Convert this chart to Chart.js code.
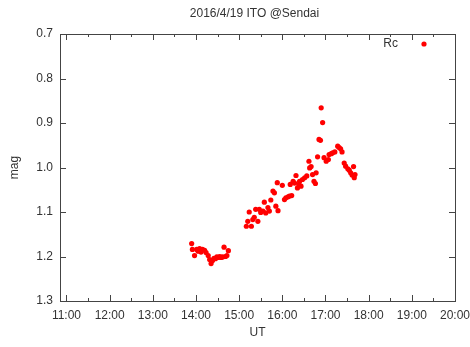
<!DOCTYPE html>
<html>
<head>
<meta charset="utf-8">
<script src="https://cdn.jsdelivr.net/npm/chart.js@4/dist/chart.umd.min.js"></script>
<style>
  body { margin: 0; background: #fff; }
  #wrap { width: 470px; height: 347px; position: relative; }
</style>
</head>
<body>
<div id="wrap"><canvas id="myChart"></canvas></div>
<script>
var chartTitle = '2016/4/19 ITO @Sendai';
var seriesName = 'Rc';

// UT times and magnitudes
var times = [
  '13:54', '13:55', '13:58', '14:01', '14:03', '14:05', '14:07', '14:09', '14:12', '14:14',
  '14:17', '14:19', '14:21', '14:23', '14:25', '14:27', '14:29', '14:31', '14:33', '14:35',
  '14:37', '14:39', '14:41', '14:43', '14:45',
  '15:10', '15:12', '15:14', '15:17', '15:19', '15:21', '15:23', '15:26', '15:28', '15:30',
  '15:33', '15:35', '15:37', '15:40', '15:42', '15:44', '15:47', '15:49', '15:51', '15:53',
  '15:54', '16:00', '16:03', '16:05', '16:08', '16:10', '16:11', '16:13', '16:15', '16:17',
  '16:19', '16:21', '16:23', '16:24', '16:26', '16:28', '16:31', '16:34', '16:37', '16:38',
  '16:40', '16:42', '16:44', '16:46', '16:47', '16:49', '16:51', '16:53', '16:54', '16:56',
  '16:58', '17:01', '17:04', '17:05', '17:08', '17:10', '17:13', '17:17', '17:19', '17:21',
  '17:23', '17:26', '17:28', '17:31', '17:33', '17:35', '17:37', '17:39', '17:40', '17:41'
];
var mags = [
  1.171, 1.184, 1.198, 1.184, 1.188, 1.182, 1.190, 1.184, 1.186, 1.191,
  1.198, 1.207, 1.216, 1.209, 1.204, 1.205, 1.201, 1.202, 1.200, 1.202,
  1.201, 1.179, 1.200, 1.198, 1.187,
  1.132, 1.121, 1.100, 1.132, 1.117, 1.112, 1.094, 1.121, 1.094, 1.101,
  1.098, 1.078, 1.102, 1.090, 1.098, 1.073, 1.053, 1.057, 1.087, 1.034,
  1.097, 1.040, 1.072, 1.068, 1.066, 1.064, 1.038, 1.063, 1.031, 1.035,
  1.018, 1.046, 1.038, 1.031, 1.042, 1.027, 1.023, 1.019, 0.986, 1.001,
  0.998, 1.016, 1.031, 1.036, 1.012, 0.976, 0.937, 0.939, 0.866, 0.899,
  0.978, 0.986, 0.982, 0.971, 0.969, 0.967, 0.965, 0.952, 0.955, 0.958,
  0.965, 0.990, 0.997, 1.003, 1.006, 1.012, 1.017, 0.998, 1.023, 1.016
];

var xTicks = [11, 11.5, 12, 12.5, 13, 13.5, 14, 14.5, 15, 15.5, 16, 16.5, 17, 17.5, 18, 18.5, 19, 19.5, 20];
var yTicks = [0.7, 0.8, 0.9, 1.0, 1.1, 1.2, 1.3];

var textColor = '#333';
var frameColor = '#444';

function toHours(s) {
  var p = s.split(':');
  return Number(p[0]) + Number(p[1]) / 60;
}

var points = times.map(function (t, i) {
  return { x: toHours(t), y: mags[i] };
});

// gnuplot-like frame, inward ticks, title and key
var framePlugin = {
  id: 'frame',
  afterDraw: function (chart) {
    var ctx = chart.ctx;
    var a = chart.chartArea;
    var xs = chart.scales.x, ys = chart.scales.y;
    ctx.save();
    ctx.strokeStyle = frameColor;
    ctx.lineWidth = 1;
    ctx.strokeRect(Math.round(a.left) + 0.5, Math.round(a.top) + 0.5,
      Math.round(a.right - a.left), Math.round(a.bottom - a.top));
    ctx.beginPath();
    xTicks.forEach(function (v) {
      var px = Math.round(xs.getPixelForValue(v)) + 0.5;
      var len = (v % 1 === 0) ? 6 : 3;
      ctx.moveTo(px, a.bottom); ctx.lineTo(px, a.bottom - len);
      ctx.moveTo(px, a.top); ctx.lineTo(px, a.top + len);
    });
    yTicks.forEach(function (v) {
      var py = Math.round(ys.getPixelForValue(v)) + 0.5;
      ctx.moveTo(a.left, py); ctx.lineTo(a.left + 6, py);
      ctx.moveTo(a.right, py); ctx.lineTo(a.right - 6, py);
    });
    ctx.stroke();

    ctx.fillStyle = textColor;
    ctx.font = '12px "Liberation Sans", Arial, sans-serif';
    ctx.textAlign = 'center';
    ctx.textBaseline = 'middle';
    ctx.fillText(chartTitle, (a.left + a.right) / 2 - 3, 14);

    ctx.textAlign = 'right';
    ctx.fillText(chart.data.datasets[0].label, 398, 44);
    ctx.fillStyle = chart.data.datasets[0].backgroundColor;
    ctx.beginPath();
    ctx.arc(424, 44, 2.6, 0, Math.PI * 2);
    ctx.fill();
    ctx.restore();
  }
};

var ctx = document.getElementById('myChart').getContext('2d');

var lightChart = new Chart(ctx, {
  type: 'scatter',
  data: {
    datasets: [{
      label: seriesName,
      data: points,
      backgroundColor: '#ff0000',
      borderWidth: 0,
      pointRadius: 2.6,
      pointHoverRadius: 2.6
    }]
  },
  options: {
    responsive: true,
    maintainAspectRatio: false,
    animation: false,
    layout: { padding: { top: 34, right: 15, left: 0, bottom: 0 } },
    plugins: {
      legend: { display: false },
      title: { display: false },
      tooltip: { enabled: false }
    },
    scales: {
      x: {
        type: 'linear',
        min: 10.85,
        max: 20,
        grid: { display: false, drawTicks: false },
        border: { display: false },
        afterBuildTicks: function (s) {
          s.ticks = xTicks.map(function (v) { return { value: v }; });
        },
        afterFit: function (s) {
          s.height = 46;
          s.paddingLeft = 0;
          s.paddingRight = 0;
        },
        ticks: {
          autoSkip: false,
          maxRotation: 0,
          padding: 7,
          color: textColor,
          font: { family: '"Liberation Sans", Arial, sans-serif', size: 12 },
          callback: function (v) {
            return (v % 1 === 0) ? v + ':00' : '';
          }
        },
        title: {
          display: true,
          text: 'UT',
          color: textColor,
          font: { family: '"Liberation Sans", Arial, sans-serif', size: 12 },
          padding: { top: 0, bottom: 7 }
        }
      },
      y: {
        type: 'linear',
        reverse: true,
        min: 0.7,
        max: 1.3,
        grid: { display: false, drawTicks: false },
        border: { display: false },
        afterBuildTicks: function (s) {
          s.ticks = yTicks.map(function (v) { return { value: v }; });
        },
        afterFit: function (s) {
          s.width = 60;
          s.paddingTop = 0;
          s.paddingBottom = 0;
        },
        ticks: {
          padding: 7,
          color: textColor,
          font: { family: '"Liberation Sans", Arial, sans-serif', size: 12 },
          callback: function (v) { return Number(v).toFixed(1); }
        },
        title: {
          display: true,
          text: 'mag',
          color: textColor,
          font: { family: '"Liberation Sans", Arial, sans-serif', size: 12 },
          padding: { top: 7, bottom: 0 }
        }
      }
    }
  },
  plugins: [framePlugin]
});
</script>
</body>
</html>
